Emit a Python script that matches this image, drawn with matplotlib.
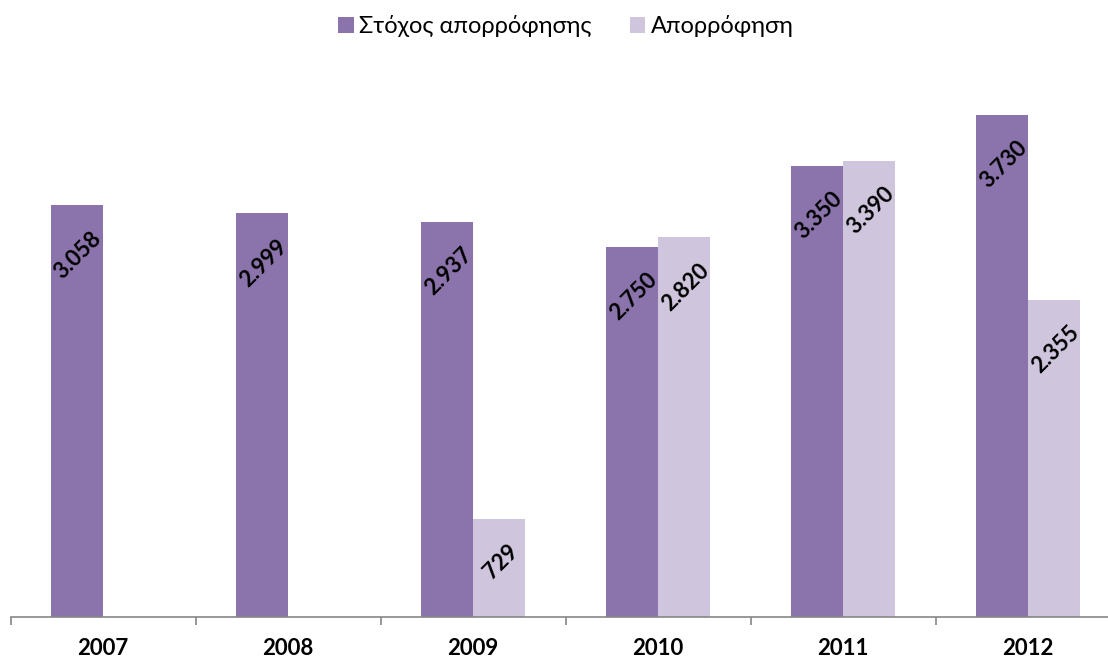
import numpy as np
import matplotlib
matplotlib.use("Agg")
import matplotlib.pyplot as plt

# Στόχος vs πραγματική απορρόφηση ανά έτος
years = ["2007", "2008", "2009", "2010", "2011", "2012"]
target = [3058, 2999, 2937, 2750, 3350, 3730]
actual = [None, None, 729, 2820, 3390, 2355]
labels = ["Στόχος απορρόφησης", "Απορρόφηση"]

c_target = "#8B73AC"
c_actual = "#CFC6DD"


def fmt(v):
    # ελληνική μορφή χιλιάδων: 3.058
    return f"{v:,}".replace(",", ".")


plt.rcParams["font.family"] = ["Lato", "Noto Sans", "DejaVu Sans"]

fig = plt.figure(figsize=(11.08, 6.62), dpi=100)
# ο άξονας συνεχίζει λίγο πέρα από τη δεξιά άκρη
ax = fig.add_axes([10.5 / 1108, 1 - 617 / 662, 1110 / 1108, 538.5 / 662])

x = np.arange(len(years))
w = 0.283
act_vals = [v if v is not None else 0 for v in actual]

b1 = ax.bar(x - w / 2, target, w, color=c_target, label=labels[0])
b2 = ax.bar(x + w / 2, act_vals, w, color=c_actual, label=labels[1])

for xi, v in zip(x, target):
    ax.annotate(fmt(v), xy=(xi - w / 2, v), xytext=(1, -16),
                textcoords="offset points", ha="center", va="top",
                rotation=45, fontsize=16, fontweight="bold")
for xi, v in zip(x, actual):
    if v is None:
        continue
    ax.annotate(fmt(v), xy=(xi + w / 2, v), xytext=(1, -16),
                textcoords="offset points", ha="center", va="top",
                rotation=45, fontsize=16, fontweight="bold")

ax.set_xlim(-0.5, len(years) - 0.5)
ax.set_ylim(0, 4000)
ax.set_yticks([])
for s in ["top", "right", "left"]:
    ax.spines[s].set_visible(False)
ax.spines["bottom"].set_color("#868686")
ax.spines["bottom"].set_linewidth(1.2)

ax.set_xticks(x)
ax.set_xticklabels(years, fontsize=16, fontweight="bold")
ax.tick_params(axis="x", which="major", length=0, pad=15)
ax.set_xticks(np.arange(-0.5, len(years)), minor=True)
ax.tick_params(axis="x", which="minor", length=6, width=1.2, color="#868686")

fig.legend(handles=[b1, b2], loc="center", bbox_to_anchor=(566 / 1108, 1 - 26 / 662),
           ncol=2, frameon=False, fontsize=17, handlelength=0.65, handleheight=0.65,
           handletextpad=0.25, columnspacing=1.6)

fig.savefig("out.png", dpi=100)
